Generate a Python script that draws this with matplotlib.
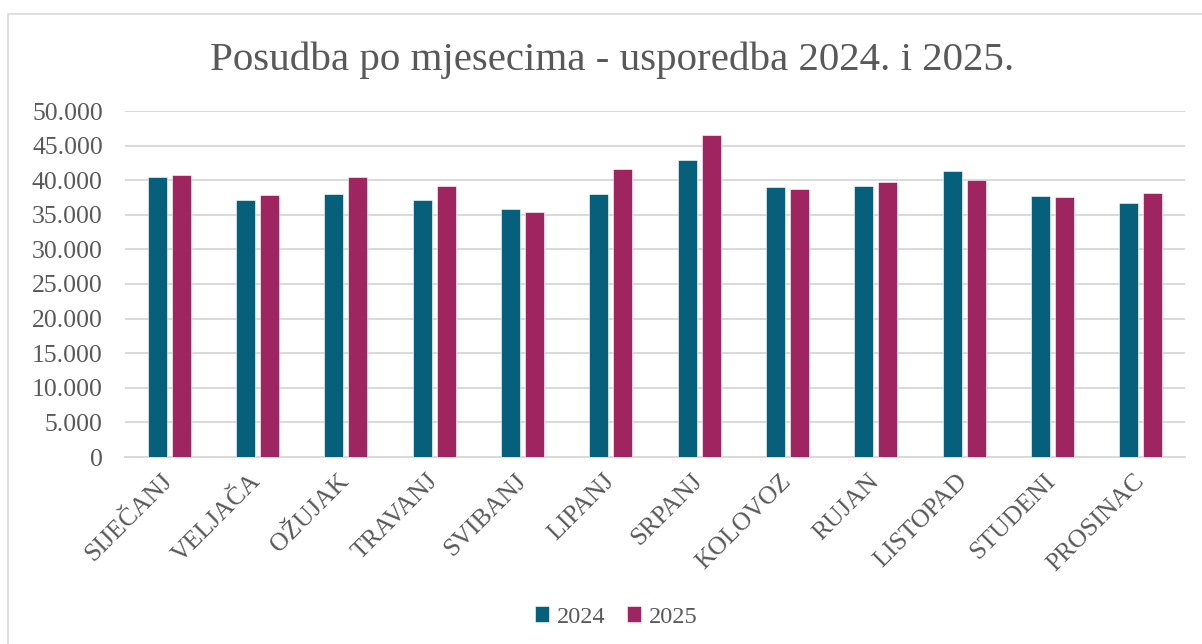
import numpy as np
import matplotlib.pyplot as plt
from matplotlib.patches import Rectangle
from matplotlib.ticker import FuncFormatter

mjeseci = ["SIJEČANJ", "VELJAČA", "OŽUJAK", "TRAVANJ", "SVIBANJ", "LIPANJ",
           "SRPANJ", "KOLOVOZ", "RUJAN", "LISTOPAD", "STUDENI", "PROSINAC"]
posudba_2024 = [40430, 37110, 37980, 37150, 35880, 38020,
                42920, 39020, 39160, 41370, 37760, 36750]
posudba_2025 = [40720, 37830, 40480, 39090, 35390, 41650,
                46550, 38730, 39680, 39970, 37570, 38140]

boja_2024 = "#07607b"
boja_2025 = "#9e2560"
siva = "#595959"
font = ["Liberation Serif", "DejaVu Serif"]

plt.rcParams["font.family"] = font

fig = plt.figure(figsize=(12.02, 6.44), dpi=100)
ax = fig.add_axes([125 / 1202, 1 - 457 / 644, 1060 / 1202, 346 / 644])

# okvir grafikona
fig.patches.append(Rectangle((8 / 1202, -0.1), 1.1, 1 - 14 / 644 + 0.1,
                             transform=fig.transFigure, fill=False,
                             edgecolor="#d9d9d9", linewidth=1.2))

x = np.arange(len(mjeseci))
ax.bar(x - 0.136, posudba_2024, width=0.215, color=boja_2024,
       edgecolor="white", linewidth=0.4, label="2024", zorder=3)
ax.bar(x + 0.136, posudba_2025, width=0.215, color=boja_2025,
       edgecolor="white", linewidth=0.4, label="2025", zorder=3)

ax.set_xlim(-0.5, len(mjeseci) - 0.5)
ax.set_ylim(0, 50000)
ax.set_yticks(range(0, 50001, 5000))
ax.yaxis.set_major_formatter(FuncFormatter(lambda v, p: f"{int(v):,}".replace(",", ".")))
ax.grid(axis="y", color="#d9d9d9", linewidth=1.4, zorder=0)
for s in ["top", "right", "left"]:
    ax.spines[s].set_visible(False)
ax.spines["bottom"].set_color("#d9d9d9")
ax.spines["bottom"].set_linewidth(1.4)
ax.tick_params(axis="both", length=0, colors=siva)
ax.tick_params(axis="y", pad=16, labelsize=18.5)

ax.set_xticks(x)
ax.set_xticklabels(mjeseci, rotation=45, ha="right", va="center",
                   rotation_mode="anchor", fontsize=18.5)
ax.tick_params(axis="x", pad=15)

fig.suptitle("Posudba po mjesecima - usporedba 2024. i 2025.",
             x=612 / 1202, y=1 - 60 / 644, va="center",
             fontsize=29.5, color=siva)

fig.legend(loc="center", bbox_to_anchor=(616 / 1202, 1 - 617 / 644),
           ncol=2, frameon=False, fontsize=17.5, labelcolor=siva,
           handlelength=0.6, handleheight=0.6, handletextpad=0.3,
           columnspacing=0.9)

fig.savefig("out.png", dpi=100)
